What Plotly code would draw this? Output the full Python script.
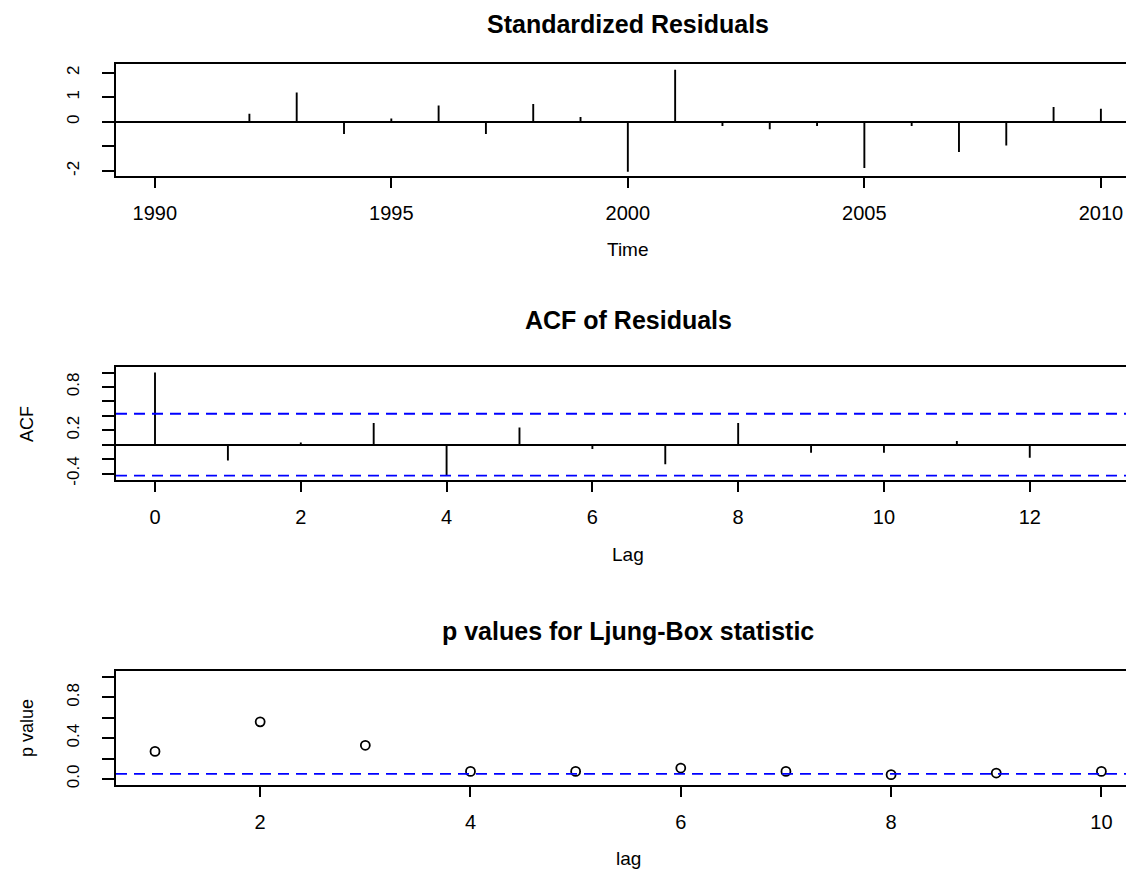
import plotly.graph_objects as go

# ---------------- data ----------------
years = list(range(1990, 2011))
std_resid = [0.0, 0.0, 0.33, 1.19, -0.50, 0.13, 0.66, -0.50, 0.73, 0.20,
             -2.03, 2.12, -0.17, -0.30, -0.17, -1.88, -0.17, -1.23, -0.97, 0.60, 0.53]

acf_lags = list(range(0, 14))
acf_vals = [1.0, -0.22, 0.03, 0.30, -0.42, 0.24, -0.06, -0.27, 0.30, -0.11,
            -0.11, 0.05, -0.18, 0.0]
acf_bound = 0.428

lb_lags = list(range(1, 11))
lb_pvals = [0.27, 0.56, 0.33, 0.074, 0.074, 0.107, 0.074, 0.042, 0.058, 0.074]
lb_level = 0.05

titles = ["Standardized Residuals", "ACF of Residuals", "p values for Ljung-Box statistic"]
xtitles = ["Time", "Lag", "lag"]
ytitles = ["", "ACF", "p value"]

# ---------------- layout helpers ----------------
# the page body has an 8px margin, so the figure is drawn 8px smaller and offset
OFF = 8
W, H = 1134 - OFF, 873 - OFF
FONT = "Liberation Sans, Arial, sans-serif"
LW = 1.9


def px(p):
    return (p - OFF) / W


def py(p):
    return 1 - (p - OFF) / H


def spikes(xs, ys):
    sx, sy = [], []
    for x, y in zip(xs, ys):
        sx += [x, x, None]
        sy += [0, y, None]
    return sx, sy


fig = go.Figure()

# panel 1
sx, sy = spikes(years, std_resid)
fig.add_trace(go.Scatter(x=sx, y=sy, mode="lines", line=dict(color="black", width=LW),
                         xaxis="x", yaxis="y", showlegend=False, hoverinfo="skip"))
# panel 2
sx, sy = spikes(acf_lags, acf_vals)
fig.add_trace(go.Scatter(x=sx, y=sy, mode="lines", line=dict(color="black", width=LW),
                         xaxis="x2", yaxis="y2", showlegend=False, hoverinfo="skip"))
# panel 3
fig.add_trace(go.Scatter(x=lb_lags, y=lb_pvals, mode="markers",
                         marker=dict(symbol="circle-open", size=9, color="black",
                                     line=dict(width=1.8, color="black")),
                         xaxis="x3", yaxis="y3", showlegend=False))

domx = [px(116), 1.0]
ydoms = [[py(177), py(64)], [py(483), py(370)], [py(790), py(676)]]

common_x = dict(showline=True, linecolor="black", linewidth=LW, mirror=True,
                ticks="outside", ticklen=10, tickwidth=LW, tickcolor="black",
                showgrid=False, zeroline=False, domain=domx,
                tickfont=dict(family=FONT, size=20, color="black"),
                ticklabelstandoff=8)
common_y = dict(showline=True, linecolor="black", linewidth=LW, mirror=False,
                ticks="outside", ticklen=12, tickwidth=LW, tickcolor="black",
                showgrid=False, tickangle=-90,
                tickfont=dict(family=FONT, size=17, color="black"),
                ticklabelstandoff=16)

fig.update_layout(
    width=W, height=H,
    margin=dict(l=0, r=0, t=0, b=0),
    paper_bgcolor="white", plot_bgcolor="white",
    xaxis=dict(common_x, range=[1989.18, 2010.70], tickvals=[1990, 1995, 2000, 2005, 2010],
               anchor="y"),
    yaxis=dict(common_y, domain=ydoms[0], range=[-2.2, 2.37],
               tickvals=[-2, -1, 0, 1, 2], ticktext=["-2", "", "0", "1", "2"],
               zeroline=True, zerolinecolor="black", zerolinewidth=LW, anchor="x"),
    xaxis2=dict(common_x, range=[-0.535, 13.43], tickvals=[0, 2, 4, 6, 8, 10, 12],
                anchor="y2"),
    yaxis2=dict(common_y, domain=ydoms[1], range=[-0.485, 1.07],
                tickvals=[-0.4, -0.2, 0, 0.2, 0.4, 0.6, 0.8, 1.0],
                ticktext=["-0.4", "", "", "0.2", "", "", "0.8", ""],
                zeroline=True, zerolinecolor="black", zerolinewidth=LW, anchor="x2"),
    xaxis3=dict(common_x, range=[0.629, 10.31], tickvals=[2, 4, 6, 8, 10], anchor="y3"),
    yaxis3=dict(common_y, domain=ydoms[2], range=[-0.055, 1.055],
                tickvals=[0, 0.2, 0.4, 0.6, 0.8, 1.0],
                ticktext=["0.0", "", "0.4", "", "0.8", ""],
                zeroline=False, anchor="x3"),
)

# reference lines
blue = dict(color="#0000FF", width=1.9, dash="11px,7px")
for yv in [acf_bound, -acf_bound]:
    fig.add_shape(type="line", xref="x2 domain", yref="y2", x0=0, x1=1, y0=yv, y1=yv, line=blue)
fig.add_shape(type="line", xref="x3 domain", yref="y3", x0=0, x1=1, y0=lb_level, y1=lb_level,
              line=blue)

# titles / axis labels
cx = px(628)
for t, yc in zip(titles, [24, 322, 635]):
    fig.add_annotation(text=f"<b>{t}</b>", x=cx, y=py(yc), xref="paper", yref="paper",
                       showarrow=False, xanchor="center", yanchor="middle",
                       font=dict(family=FONT, size=25, color="black"))
for t, yc in zip(xtitles, [251, 558, 864]):
    fig.add_annotation(text=t, x=cx, y=py(yc), xref="paper", yref="paper",
                       showarrow=False, xanchor="center", yanchor="middle",
                       font=dict(family=FONT, size=19, color="black"))
for t, yc in zip(ytitles, [120, 427, 733]):
    if t:
        fig.add_annotation(text=t, x=px(27), y=py(yc), xref="paper", yref="paper",
                           showarrow=False, xanchor="center", yanchor="middle", textangle=-90,
                           font=dict(family=FONT, size=18, color="black"))

fig.write_html("out.html")
